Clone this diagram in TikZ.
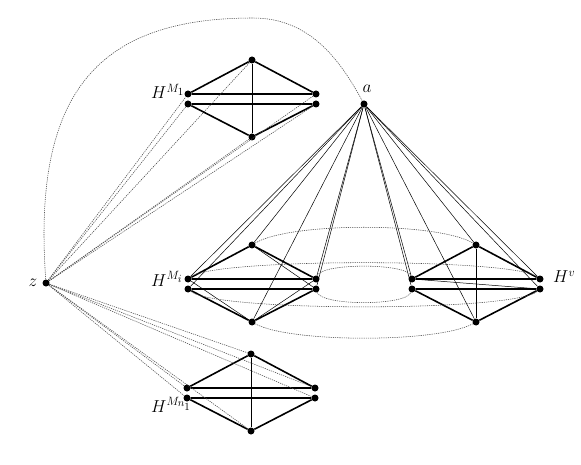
\documentclass[tikz,border=0pt]{standalone}
\DeclareMathSizes{17}{17}{13}{10.5}
\begin{document}
\begin{tikzpicture}[x=1pt,y=-1pt,
  vtx/.style={circle,fill=black,inner sep=0pt,minimum size=7pt},
  heavy/.style={line width=1.6pt},
  thinedge/.style={line width=0.5pt},
  dots/.style={line width=0.55pt,dash pattern=on 1.2pt off 1pt,black!70},
  lab/.style={font=\fontsize{17}{20}\selectfont,inner sep=0pt}]
\useasboundingbox (0,0) rectangle (581,465);
\newcommand\gadget[3]{%
  \node[vtx] (#1t)  at (#2,#3) {};
  \node[vtx] (#1lu) at ({#2-64},{#3+34}) {};
  \node[vtx] (#1ll) at ({#2-64},{#3+44}) {};
  \node[vtx] (#1ru) at ({#2+64},{#3+34}) {};
  \node[vtx] (#1rl) at ({#2+64},{#3+44}) {};
  \node[vtx] (#1b)  at (#2,{#3+77}) {};
  \draw[heavy] (#1t) -- (#1lu) -- (#1ru) -- (#1t);
  \draw[heavy] (#1b) -- (#1ll) -- (#1rl) -- (#1b);
}
\gadget{P}{252}{60}
\gadget{Q}{252}{245}
\gadget{R}{251}{354}
\gadget{V}{476}{245}
\node[vtx] (a) at (364,104) {};
\node[vtx] (z) at (46,283) {};
% labels
\node[lab,anchor=base west] (lP) at (151,99) {$H^{M_1}$};
\node[lab,anchor=base west] (lQ) at (151,286) {$H^{M_i}$};
\node[lab,anchor=base west] (lR) at (151,412) {$H^{M_{n_1}}$};
\node[lab,anchor=base west] (lV) at (553,283) {$H^{v}$};
\node[lab,anchor=base] (la) at (367,93) {$a$};
\node[lab,anchor=base] (lz) at (33,286) {$z$};
% internal thin edges
\draw[thinedge] (Pt) -- (Pb);
\draw[thinedge] (Rt) -- (Rb);
\draw[thinedge] (Vt) -- (Vb);
\draw[thinedge] (Vlu) -- (Vrl);
\draw[thinedge] (Qt) -- (Qrl);
\draw[thinedge] (Qb) -- (Qru);
\draw[thinedge] (Qlu) -- (Qb);
% lines from a
\foreach \g in {Q,V}{
  \foreach \v in {t,lu,ll,ru,rl,b}{
    \draw[thinedge] (a) -- (\g\v);
  }
}
% dotted lines from z
\foreach \g in {P,R}{
  \foreach \v in {t,lu,ll,ru,rl,b}{
    \draw[dots] (z) -- (\g\v);
  }
}
% dotted arcs between H^{M_i} and H^v
\draw[dots] (Qt) .. controls (290,222) and (438,222) .. (Vt);
\draw[dots] (Qb) .. controls (290,343) and (438,343) .. (Vb);
\draw[dots] (Qlu) .. controls (215,258) and (513,258) .. (Vru);
\draw[dots] (Qll) .. controls (215,312) and (513,312) .. (Vrl);
\draw[dots] (Qru) .. controls (322,263) and (406,263) .. (Vlu);
\draw[dots] (Qrl) .. controls (322,306) and (406,306) .. (Vll);
% dotted curve from z to a
\coordinate (pk) at (253,18);
\draw[dots] (z) .. controls (32,90) and (100,18) .. (pk)
                 .. controls (310,18) and (340,60) .. (a);
\end{tikzpicture}
\end{document}
